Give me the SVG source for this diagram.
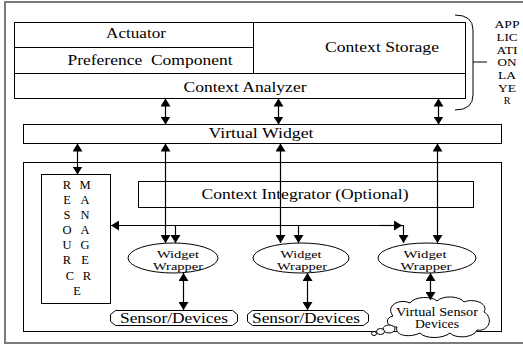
<svg xmlns="http://www.w3.org/2000/svg" width="523" height="350" viewBox="0 0 523 350">
<style>
.b{fill:#fff;stroke:#000;stroke-width:1}
.n{fill:none;stroke:#000;stroke-width:1}
.t{font-family:"Liberation Serif","Times New Roman",serif;font-size:14px;fill:#000;text-anchor:middle}
.s{font-family:"Liberation Serif","Times New Roman",serif;font-size:11px;fill:#000;text-anchor:middle}
.l{font-family:"Liberation Serif","Times New Roman",serif;font-size:12.5px;fill:#000;text-anchor:middle}
.a{font-family:"Liberation Serif","Times New Roman",serif;font-size:10px;fill:#000;text-anchor:middle}
.c{fill:none;stroke:#000;stroke-width:1.2}
</style>
<defs>
<marker id="ah" markerUnits="userSpaceOnUse" markerWidth="8" markerHeight="10" refX="8" refY="5" orient="auto-start-reverse">
<path d="M0,0 L8,5 L0,10 z" fill="#000"/>
</marker>
</defs>
<rect x="0" y="0" width="523" height="350" fill="#fff"/>
<rect id="frame" x="5" y="2" width="530" height="341" fill="none" stroke="#7a7a7a" stroke-width="2"/>

<g id="application-layer">
<rect class="b" x="14.5" y="22.5" width="451" height="76"/>
<line class="n" x1="253.5" y1="22.5" x2="253.5" y2="73.5"/>
<line class="n" x1="14.5" y1="47.5" x2="253.5" y2="47.5"/>
<line class="n" x1="14.5" y1="73.5" x2="465.5" y2="73.5"/>
<text class="t" x="136" y="38" textLength="60" lengthAdjust="spacingAndGlyphs">Actuator</text>
<text class="t" x="150" y="65" textLength="165" lengthAdjust="spacingAndGlyphs" xml:space="preserve">Preference  Component</text>
<text class="t" x="382" y="52" textLength="114" lengthAdjust="spacingAndGlyphs">Context Storage</text>
<text class="t" x="245" y="92" textLength="123" lengthAdjust="spacingAndGlyphs">Context Analyzer</text>
</g>

<g id="layer-brace">
<path class="n" d="M455,15 Q473,15 473,30 L473,95 Q473,110 455,110"/>
<line class="n" x1="473" y1="62" x2="487" y2="62"/>
<text class="a" x="507" y="28" textLength="25" lengthAdjust="spacingAndGlyphs">APP</text>
<text class="a" x="507" y="41" textLength="21" lengthAdjust="spacingAndGlyphs">LIC</text>
<text class="a" x="507" y="53.5" textLength="21" lengthAdjust="spacingAndGlyphs">ATI</text>
<text class="a" x="507" y="66" textLength="19" lengthAdjust="spacingAndGlyphs">ON</text>
<text class="a" x="507" y="79" textLength="18" lengthAdjust="spacingAndGlyphs">LA</text>
<text class="a" x="507" y="91.5" textLength="18" lengthAdjust="spacingAndGlyphs">YE</text>
<text class="a" x="507" y="104">R</text>
</g>

<g id="virtual-widget">
<rect class="b" x="23.5" y="124.5" width="478" height="19"/>
<text class="t" x="261" y="138" textLength="105" lengthAdjust="spacingAndGlyphs">Virtual Widget</text>
</g>

<g id="inner-frame">
<rect class="n" x="23.5" y="162.5" width="478" height="169"/>
</g>

<g id="resource-manager">
<rect class="b" x="41.5" y="174.5" width="69" height="129"/>
<text class="l" x="67" y="189">R</text><text class="l" x="85" y="189">M</text>
<text class="l" x="67" y="204">E</text><text class="l" x="85" y="204">A</text>
<text class="l" x="67" y="219">S</text><text class="l" x="85" y="219">N</text>
<text class="l" x="67" y="234">O</text><text class="l" x="85" y="234">A</text>
<text class="l" x="67" y="249">U</text><text class="l" x="85" y="249">G</text>
<text class="l" x="67" y="264">R</text><text class="l" x="85" y="264">E</text>
<text class="l" x="70" y="280">C</text><text class="l" x="87" y="280">R</text>
<text class="l" x="77" y="295">E</text>
</g>

<g id="context-integrator">
<rect class="b" x="138.5" y="181.5" width="335" height="26"/>
<text class="t" x="305" y="198.5" textLength="207" lengthAdjust="spacingAndGlyphs">Context Integrator (Optional)</text>
</g>

<g id="widget-wrapper-1">
<ellipse class="b" cx="173" cy="258" rx="45" ry="15"/>
<text class="s" x="178" y="258" textLength="42" lengthAdjust="spacingAndGlyphs">Widget</text>
<text class="s" x="178" y="270" textLength="50" lengthAdjust="spacingAndGlyphs">Wrapper</text>
</g>
<g id="widget-wrapper-2">
<ellipse class="b" cx="301" cy="258" rx="48" ry="15"/>
<text class="s" x="301" y="258" textLength="41" lengthAdjust="spacingAndGlyphs">Widget</text>
<text class="s" x="302" y="270" textLength="50" lengthAdjust="spacingAndGlyphs">Wrapper</text>
</g>
<g id="widget-wrapper-3">
<ellipse class="b" cx="427" cy="258" rx="49" ry="15"/>
<text class="s" x="425" y="258" textLength="43" lengthAdjust="spacingAndGlyphs">Widget</text>
<text class="s" x="426" y="270" textLength="51" lengthAdjust="spacingAndGlyphs">Wrapper</text>
</g>

<g id="sensor-devices-1">
<path class="b" d="M115.5,310.5 L232.5,310.5 L237.5,314.5 L237.5,321.5 L232.5,325.5 L115.5,325.5 L110.5,321.5 L110.5,314.5 Z"/>
<text class="t" x="174" y="322.5" textLength="108" lengthAdjust="spacingAndGlyphs">Sensor/Devices</text>
</g>
<g id="sensor-devices-2">
<path class="b" d="M252.5,310.5 L363.5,310.5 L368.5,314.5 L368.5,321.5 L363.5,325.5 L252.5,325.5 L247.5,321.5 L247.5,314.5 Z"/>
<text class="t" x="306" y="322.5" textLength="108" lengthAdjust="spacingAndGlyphs">Sensor/Devices</text>
</g>

<g id="virtual-sensor-devices">
<path class="b" d="M393,316 C385,306 399,298 410,303 C415,296 432,296 437,301 C443,295 460,296 464,302 C473,298 489,303 484,312 C494,318 489,332 477,330 C474,338 455,339 450,333 C443,339 425,339 420,333 C410,338 394,336 397,327 C386,327 384,318 393,316 Z"/>
<ellipse class="b" cx="389" cy="329" rx="6" ry="4"/>
<ellipse class="b" cx="380.5" cy="331.5" rx="4" ry="3"/>
<ellipse class="b" cx="374" cy="333.5" rx="2.5" ry="2"/>
<text class="s" x="437" y="315.5" textLength="82" lengthAdjust="spacingAndGlyphs" style="font-size:11.5px">Virtual Sensor</text>
<text class="s" x="437" y="328" textLength="44" lengthAdjust="spacingAndGlyphs" style="font-size:11.5px">Devices</text>
</g>

<g id="connectors">
<line class="c" x1="165.5" y1="98.5" x2="165.5" y2="124.5" marker-start="url(#ah)" marker-end="url(#ah)"/>
<line class="c" x1="278.5" y1="98.5" x2="278.5" y2="124.5" marker-start="url(#ah)" marker-end="url(#ah)"/>
<line class="c" x1="438.5" y1="98.5" x2="438.5" y2="124.5" marker-start="url(#ah)" marker-end="url(#ah)"/>
<line class="c" x1="77.5" y1="143.5" x2="77.5" y2="174.5" marker-start="url(#ah)" marker-end="url(#ah)"/>
<line class="c" x1="165.5" y1="143.5" x2="165.5" y2="243" marker-start="url(#ah)" marker-end="url(#ah)"/>
<line class="c" x1="280.5" y1="143.5" x2="280.5" y2="243" marker-start="url(#ah)" marker-end="url(#ah)"/>
<line class="c" x1="437.5" y1="143.5" x2="437.5" y2="243" marker-start="url(#ah)" marker-end="url(#ah)"/>
<line class="c" x1="403" y1="225.5" x2="111" y2="225.5" marker-end="url(#ah)"/>
<line class="c" x1="380" y1="225.5" x2="402" y2="225.5" marker-end="url(#ah)"/>
<polyline class="c" points="402,225.5 403.5,225.5 403.5,243" marker-end="url(#ah)"/>
<line class="c" x1="175.5" y1="225.5" x2="175.5" y2="243" marker-end="url(#ah)"/>
<line class="c" x1="298.5" y1="225.5" x2="298.5" y2="243" marker-end="url(#ah)"/>
<line class="c" x1="183.5" y1="273" x2="183.5" y2="310" marker-start="url(#ah)" marker-end="url(#ah)"/>
<line class="c" x1="307.5" y1="273" x2="307.5" y2="310" marker-start="url(#ah)" marker-end="url(#ah)"/>
<line class="c" x1="430.5" y1="273" x2="430.5" y2="300" marker-start="url(#ah)" marker-end="url(#ah)"/>
</g>
</svg>
